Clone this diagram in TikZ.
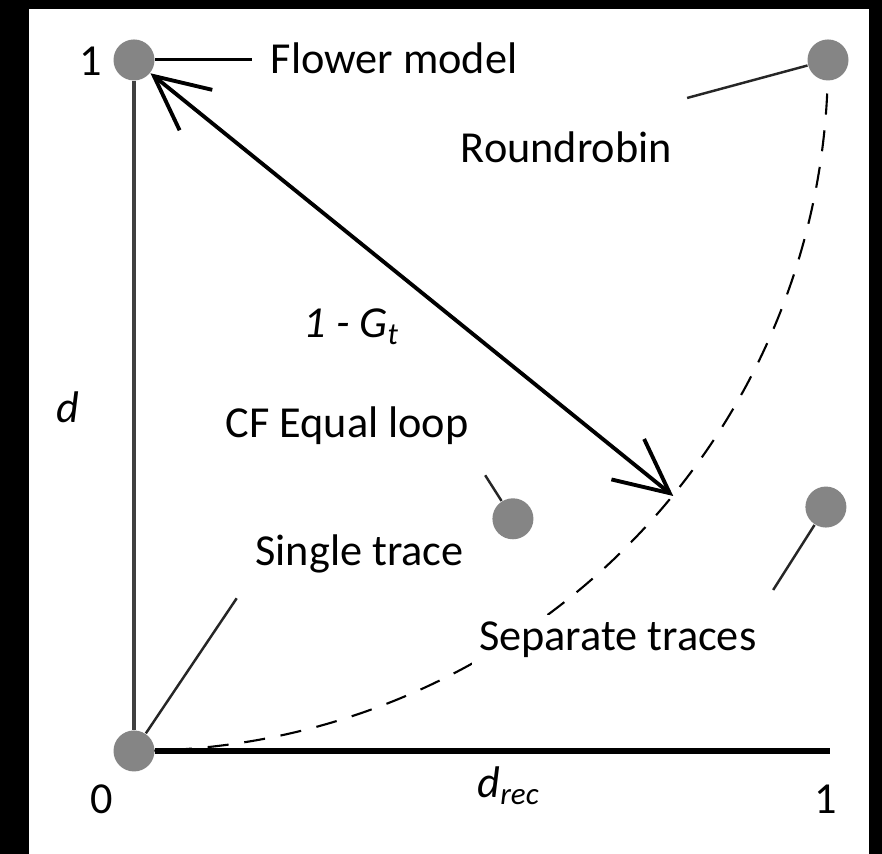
\documentclass[tikz,border=0pt]{standalone}
\usepackage{fontspec}
\setmainfont{Carlito}
\usetikzlibrary{arrows.meta}
\usetikzlibrary{backgrounds}
\definecolor{dotgray}{RGB}{133,133,133}

\begin{document}
\begin{tikzpicture}[x=6.94cm, y=6.91cm, font=\fontsize{12.6}{14}\selectfont,
    dot/.style={circle, fill=dotgray, inner sep=0pt, minimum size=4.1mm},
    lbl/.style={anchor=base west, inner sep=0pt},
    num/.style={anchor=base, inner sep=0pt},
    leader/.style={line width=.7pt, black!85},
    dashcurve/.style={line width=.6pt, dash pattern=on 6pt off 4.5pt},
    gap/.style={line width=1.1pt, {Straight Barb[length=5.4mm, width=5.2mm]}-{Straight Barb[length=5.4mm, width=5.2mm]}}]
    % the points
    \node[dot] (orig) at (0,0) {};
    \node[dot] (flower) at (0,1) {};
    \node[dot] (rrobin) at (1,1) {};
    \node[dot] (cfloop) at (0.546,0.336) {};
    \node[dot] (septr) at (0.997,0.353) {};
    \begin{scope}[on background layer]
        \fill[black] (-0.1931,-0.1491) rectangle (1.0778,1.0868);
        \fill[white] (-0.1513,-0.1491) rectangle (1.0591,1.0738);
        \draw[dashcurve] (orig.center) arc[start angle=-90, end angle=0, x radius=6.94cm, y radius=6.91cm];
    \end{scope}
    % axes
    \coordinate (xend) at (1.003,0);
    \draw[line width=1.6pt] (orig) -- (xend);
    \draw[line width=1pt, black!75] (orig) -- (flower);
    \node[num] (zero) at (-0.046,-0.091) {0};
    \node[num] (xone) at (0.997,-0.091) {1};
    \node[num] (yone) at (-0.062,0.978) {1};
    \node[lbl] (drec) at (0.494,-0.068) {\textit{d}\textsubscript{\textit{rec}}};
    \node[num] (dlab) at (-0.095,0.475) {\textit{d}};
    % labels
    \node[lbl] (l-flower) at (0.196,0.981) {Flower model};
    \node[lbl] (l-rrobin) at (0.470,0.852) {Roundrobin};
    \node[lbl] (l-cfloop) at (0.131,0.453) {CF Equal loop};
    \node[lbl] (l-single) at (0.174,0.269) {Single trace};
    \node[lbl, fill=white, inner sep=2pt] (l-septr) at (0.486,0.145) {Separate traces};
    \node[lbl] (l-gt) at (0.2435,0.598) {\textit{1 - G}\textsubscript{\textit{t}}};
    % leaders
    \coordinate (fl-end) at (0.170,1);
    \coordinate (rr-end) at (0.797,0.945);
    \coordinate (cf-end) at (0.506,0.399);
    \coordinate (sp-end) at (0.921,0.233);
    \coordinate (st-end) at (0.148,0.221);
    \draw[line width=.85pt] (flower) -- (fl-end);
    \draw[leader] (rr-end) -- (rrobin);
    \draw[leader] (cf-end) -- (cfloop);
    \draw[leader] (sp-end) -- (septr);
    \draw[leader] (st-end) -- (orig);
    % 1 - G_t
    \coordinate (gt-end) at (0.777,0.369);
    \draw[gap] (flower) -- (gt-end);
\end{tikzpicture}
\end{document}
